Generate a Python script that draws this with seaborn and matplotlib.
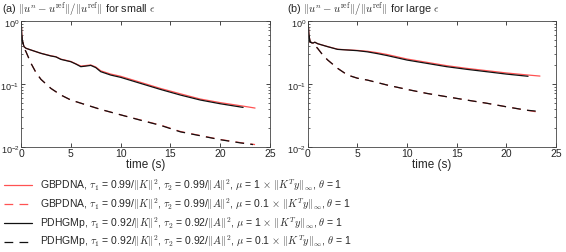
import numpy as np
import pandas as pd
import matplotlib
matplotlib.use("Agg")
import matplotlib.pyplot as plt
import matplotlib.transforms as mtransforms
import seaborn as sns

# ---------------------------------------------------------------
# data
# ---------------------------------------------------------------
# (a) small epsilon
t_a_solid_red = [0, 0.1, 0.3, 0.5, 1, 2, 3, 3.5, 4, 5, 5.5, 6, 6.5, 7, 7.5, 8, 9, 10, 12, 14, 16, 18, 20, 22.3, 23.5]
e_a_solid_red = [1.0, 0.5, 0.386, 0.364, 0.342, 0.303, 0.277, 0.268, 0.245, 0.225, 0.207, 0.19, 0.194, 0.198, 0.184,
                 0.16, 0.142, 0.131, 0.105, 0.084, 0.069, 0.057, 0.05, 0.044, 0.041]
t_a_dash_red = [0, 0.1, 0.3, 0.5, 1, 1.5, 2, 3, 4, 5, 6, 8, 10, 12, 14, 16, 18, 20, 22, 23.5]
e_a_dash_red = [1.0, 0.5, 0.37, 0.32, 0.21, 0.15, 0.117, 0.084, 0.066, 0.055, 0.049, 0.039, 0.032, 0.0265,
                0.022, 0.0174, 0.015, 0.013, 0.0116, 0.0108]
t_a_solid_blk = [0, 0.1, 0.3, 0.5, 1, 2, 3, 3.5, 4, 5, 5.5, 6, 6.5, 7, 7.5, 8, 9, 10, 12, 14, 16, 18, 20, 22.3]
e_a_solid_blk = [1.0, 0.5, 0.386, 0.364, 0.342, 0.303, 0.275, 0.266, 0.243, 0.223, 0.205, 0.186, 0.19, 0.195, 0.18,
                 0.155, 0.137, 0.126, 0.101, 0.081, 0.066, 0.055, 0.048, 0.042]
t_a_dash_blk = [0, 0.1, 0.3, 0.5, 1, 1.5, 2, 3, 4, 5, 6, 8, 10, 12, 14, 16, 18, 20, 22, 23.3]
e_a_dash_blk = [1.0, 0.5, 0.37, 0.32, 0.21, 0.15, 0.117, 0.084, 0.066, 0.055, 0.049, 0.039, 0.032, 0.0263,
                0.0218, 0.0172, 0.0149, 0.0129, 0.0115, 0.0108]

# (b) large epsilon
t_b_solid_red = [0, 0.1, 0.2, 0.5, 0.7, 1, 2, 3, 4, 5, 6, 7, 8, 10, 12, 14, 16, 18, 20, 22, 23.4]
e_b_solid_red = [1.0, 0.62, 0.46, 0.44, 0.455, 0.43, 0.388, 0.352, 0.344, 0.337, 0.327, 0.31, 0.29, 0.246, 0.218,
                 0.193, 0.175, 0.161, 0.148, 0.138, 0.132]
t_b_dash_red = [0, 0.1, 0.2, 0.5, 1, 1.5, 2, 3, 4, 5, 6, 8, 10, 12, 14, 16, 18, 20, 22, 23.4]
e_b_dash_red = [1.0, 0.62, 0.46, 0.44, 0.36, 0.285, 0.237, 0.175, 0.137, 0.122, 0.114, 0.095, 0.081, 0.07,
                0.062, 0.055, 0.049, 0.043, 0.038, 0.035]
t_b_solid_blk = [0, 0.1, 0.2, 0.5, 0.7, 1, 2, 3, 4, 5, 6, 7, 8, 10, 12, 14, 16, 18, 20, 22.2]
e_b_solid_blk = [1.0, 0.62, 0.46, 0.44, 0.455, 0.43, 0.386, 0.35, 0.342, 0.334, 0.32, 0.3, 0.279, 0.237, 0.21,
                 0.186, 0.169, 0.155, 0.142, 0.131]
t_b_dash_blk = [0, 0.1, 0.2, 0.5, 1, 1.5, 2, 3, 4, 5, 6, 8, 10, 12, 14, 16, 18, 20, 22, 23.5]
e_b_dash_blk = [1.0, 0.62, 0.46, 0.44, 0.36, 0.285, 0.237, 0.175, 0.137, 0.122, 0.114, 0.095, 0.081, 0.07,
                0.062, 0.055, 0.049, 0.043, 0.038, 0.036]

labels = [
    r"GBPDNA, $\tau_1$ = 0.99/$\|K\|^2$, $\tau_2$ = 0.99/$\|A\|^2$, $\mu$ = 1 $\times$ $\|K^Ty\|_\infty$, $\theta$ = 1",
    r"GBPDNA, $\tau_1$ = 0.99/$\|K\|^2$, $\tau_2$ = 0.99/$\|A\|^2$, $\mu$ = 0.1 $\times$ $\|K^Ty\|_\infty$, $\theta$ = 1",
    r"PDHGMp, $\tau_1$ = 0.92/$\|K\|^2$, $\tau_2$ = 0.92/$\|A\|^2$, $\mu$ = 1 $\times$ $\|K^Ty\|_\infty$, $\theta$ = 1",
    r"PDHGMp, $\tau_1$ = 0.92/$\|K\|^2$, $\tau_2$ = 0.92/$\|A\|^2$, $\mu$ = 0.1 $\times$ $\|K^Ty\|_\infty$, $\theta$ = 1",
]
titles = [r"(a) $\|u^n - u^{\rm ref}\|/\|u^{\rm ref}\|$ for small $\epsilon$",
          r"(b) $\|u^n - u^{\rm ref}\|/\|u^{\rm ref}\|$ for large $\epsilon$"]

RED = "#ff5252"
BLK = "#111111"
DASH = (0, (7, 5))
styles = [(RED, "-"), (RED, DASH), (BLK, "-"), (BLK, DASH)]

sns.set_style("ticks")
plt.rcParams["font.family"] = ["Liberation Sans", "DejaVu Sans"]
plt.rcParams["mathtext.fontset"] = "cm"
plt.rcParams["font.size"] = 7.5

fig = plt.figure(figsize=(5.66, 2.52), dpi=100)
ax_a = fig.add_axes([0.0372, 0.418, 0.4398, 0.5])
ax_b = fig.add_axes([0.544, 0.418, 0.438, 0.5])

panels = [
    (ax_a, [(t_a_solid_red, e_a_solid_red), (t_a_dash_red, e_a_dash_red),
            (t_a_solid_blk, e_a_solid_blk), (t_a_dash_blk, e_a_dash_blk)]),
    (ax_b, [(t_b_solid_red, e_b_solid_red), (t_b_dash_red, e_b_dash_red),
            (t_b_solid_blk, e_b_solid_blk), (t_b_dash_blk, e_b_dash_blk)]),
]

# y tick labels sit a little below their ticks, like in the original
shift_down = mtransforms.ScaledTranslation(0, -2.5 / 100, fig.dpi_scale_trans)

title_x = [-0.075, -0.085]
for i, (ax, series) in enumerate(panels):
    for (t, e), (c, ls), lab in zip(series, styles, labels):
        sns.lineplot(x=t, y=e, ax=ax, color=c, linestyle=ls, linewidth=0.9, label=lab, legend=False)
    ax.set_yscale("log")
    ax.set_xlim(0, 25)
    ax.set_ylim(0.01, 1)
    ax.set_xticks([0, 5, 10, 15, 20, 25])
    ax.set_yticks([0.01, 0.1, 1])
    ax.tick_params(direction="in", top=True, right=True, length=3, width=0.6, labelsize=7.5, pad=2)
    ax.tick_params(axis="y", labelsize=6.6, pad=1.0)
    ax.tick_params(which="minor", direction="in", right=True, length=1.6, width=0.5)
    for lbl in ax.get_yticklabels():
        lbl.set_transform(lbl.get_transform() + shift_down)
    for sp in ax.spines.values():
        sp.set_linewidth(0.6)
        sp.set_color("#444444")
    ax.set_xlabel("time (s)", fontsize=8.5, labelpad=0)
    ax.set_ylabel("")
    ax.set_title(titles[i], fontsize=7.8, loc="left", pad=6.0, x=title_x[i])

handles, labs = ax_a.get_legend_handles_labels()
fig.legend(handles, labs, loc="upper left", bbox_to_anchor=(0.0, 0.312), frameon=False,
           fontsize=7.5, handlelength=2.7, handletextpad=0.75, labelspacing=0.3, borderaxespad=0)

fig.savefig("out.png", dpi=100)
